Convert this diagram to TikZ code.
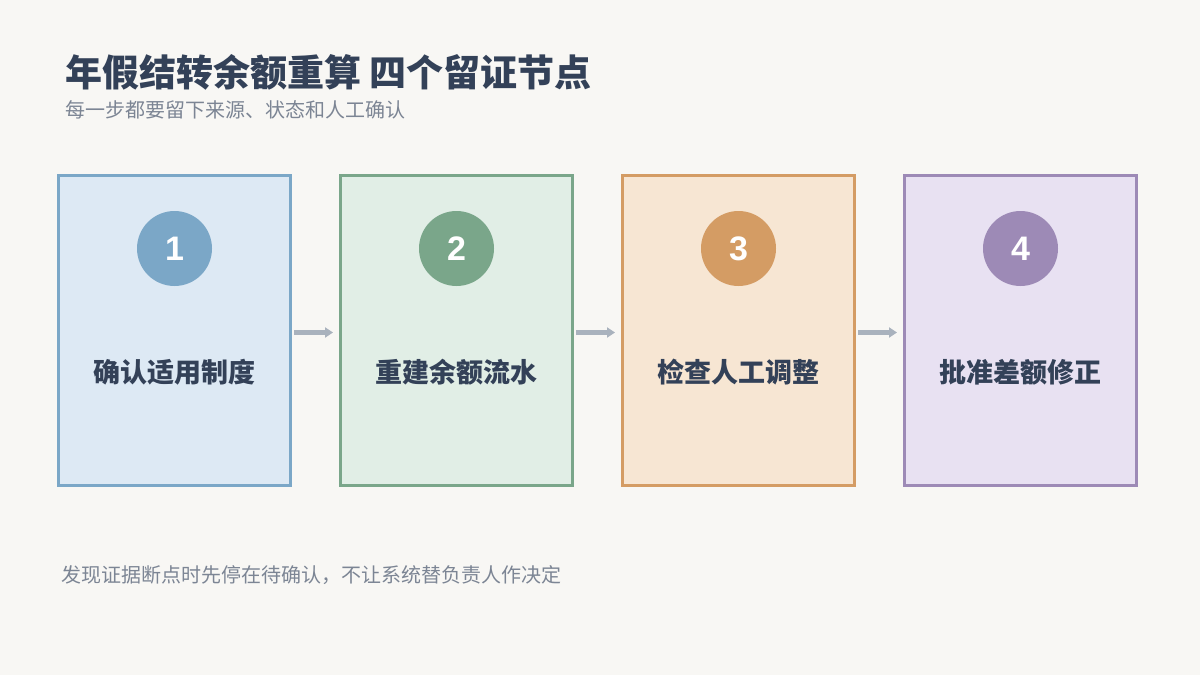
\documentclass[tikz,border=0pt]{standalone}
\usepackage{fontspec}
\setmainfont{Noto Sans CJK SC}
\newfontfamily\numfont{Liberation Sans}
\usetikzlibrary{arrows.meta}
\definecolor{bg}{HTML}{F8F7F4}
\definecolor{ink}{HTML}{334158}
\definecolor{muted}{HTML}{7C8594}
\definecolor{arrowc}{HTML}{A9B2BD}
\definecolor{fA}{HTML}{DDE9F4}\definecolor{lA}{HTML}{7BA7C7}
\definecolor{fB}{HTML}{E1EEE6}\definecolor{lB}{HTML}{7AA68A}
\definecolor{fC}{HTML}{F7E6D3}\definecolor{lC}{HTML}{D49C64}
\definecolor{fD}{HTML}{E8E1F2}\definecolor{lD}{HTML}{9D8AB6}
\tikzset{
  card/.style={draw=#1, line width=3pt, minimum width=232pt, minimum height=310pt, inner sep=0pt},
  badge/.style={circle, fill=#1, minimum size=75pt, inner sep=0pt, text=white, font=\numfont\fontsize{34}{38}\selectfont\bfseries},
  cardlabel/.style={text=ink, font=\fontsize{27}{31}\selectfont\bfseries, inner sep=0pt},
  flow/.style={draw=arrowc, line width=5pt, -{Triangle[length=8pt,width=10pt]}},
}
\begin{document}
\begin{tikzpicture}[x=1pt,y=-1pt]
\fill[bg] (0,0) rectangle (1200,675);
\useasboundingbox (0,0) rectangle (1200,675);
\node[anchor=west, text=ink, font=\fontsize{37}{40}\selectfont\bfseries, inner sep=0pt] (title) at (65,72) {年假结转余额重算 四个留证节点};
\node[anchor=west, text=muted, font=\fontsize{20}{24}\selectfont, inner sep=0pt] (sub) at (65,110) {每一步都要留下来源、状态和人工确认};
\node[card=lA, fill=fA] (b1) at (174.5,330.5) {};
\node[card=lB, fill=fB] (b2) at (456.5,330.5) {};
\node[card=lC, fill=fC] (b3) at (738.5,330.5) {};
\node[card=lD, fill=fD] (b4) at (1020.5,330.5) {};
\node[badge=lA] (n1) at (174.5,248.5) {1};
\node[badge=lB] (n2) at (456.5,248.5) {2};
\node[badge=lC] (n3) at (738.5,248.5) {3};
\node[badge=lD] (n4) at (1020.5,248.5) {4};
\node[cardlabel] (t1) at (174.5,372) {确认适用制度};
\node[cardlabel] (t2) at (456.5,372) {重建余额流水};
\node[cardlabel] (t3) at (738.5,372) {检查人工调整};
\node[cardlabel] (t4) at (1020.5,372) {批准差额修正};
\draw[flow] ([xshift=2pt,yshift=-2pt]b1.east) -- ([xshift=-6pt,yshift=-2pt]b2.west);
\draw[flow] ([xshift=2pt,yshift=-2pt]b2.east) -- ([xshift=-6pt,yshift=-2pt]b3.west);
\draw[flow] ([xshift=2pt,yshift=-2pt]b3.east) -- ([xshift=-6pt,yshift=-2pt]b4.west);
\node[anchor=west, text=muted, font=\fontsize{20}{23}\selectfont, inner sep=0pt] (foot) at (61,575) {发现证据断点时先停在待确认，不让系统替负责人作决定};
\end{tikzpicture}
\end{document}
